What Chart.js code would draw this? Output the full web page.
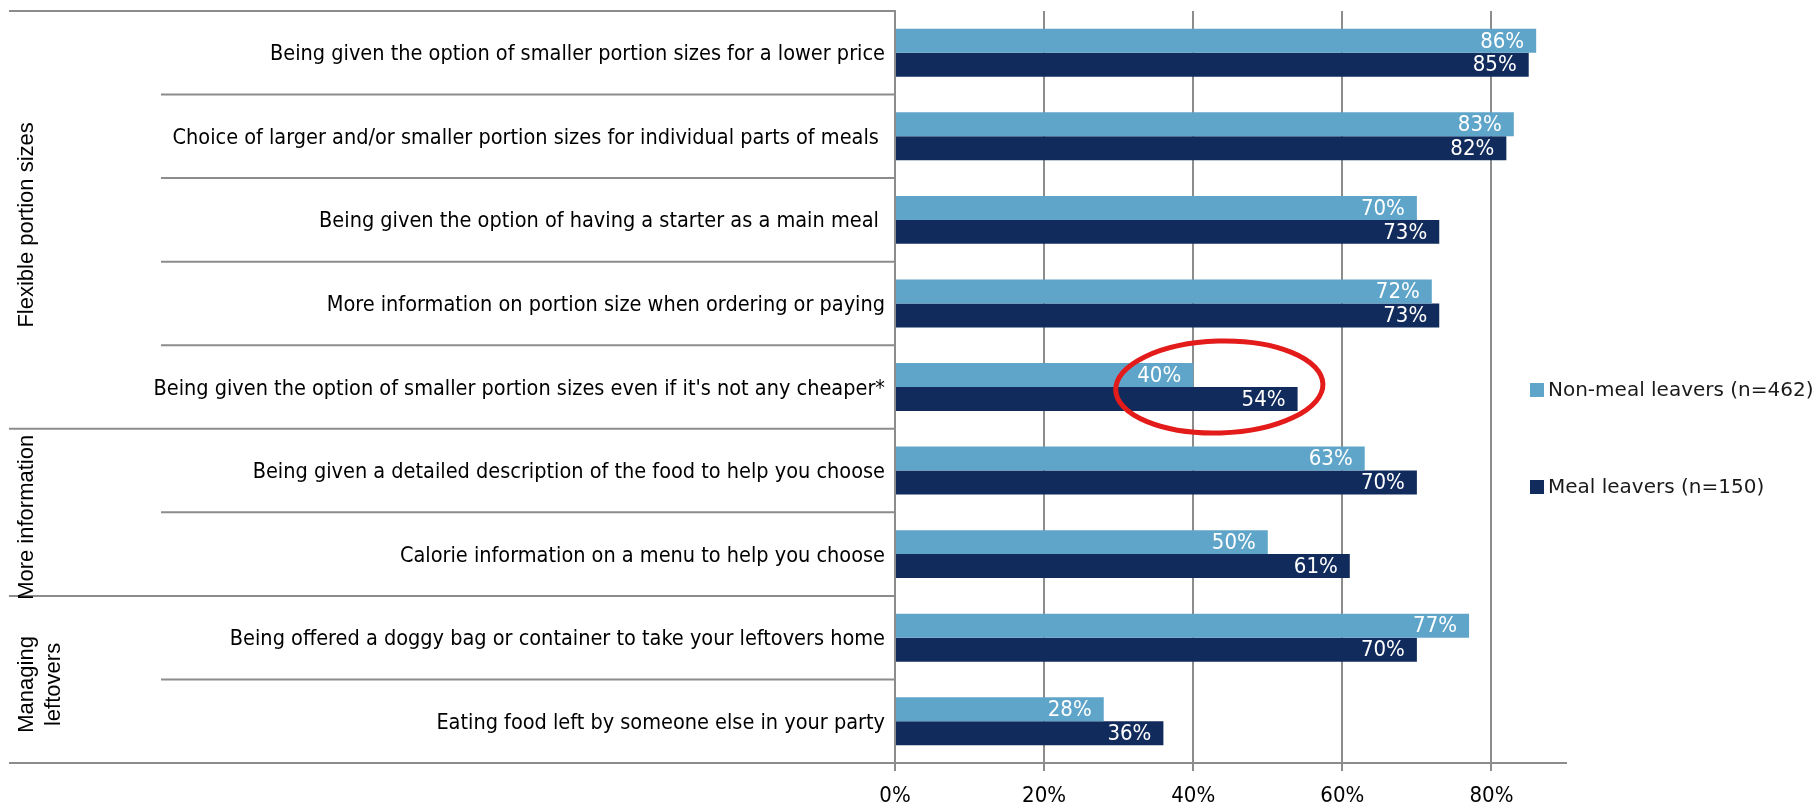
<!DOCTYPE html>
<html>
<head>
<meta charset="utf-8">
<title>Portion sizes and leftovers</title>
<script src="https://cdn.jsdelivr.net/npm/chart.js@4.4.1/dist/chart.umd.min.js"></script>
<style>
    html, body { margin: 0; padding: 0; background: #ffffff; }
    #wrap { width: 1816px; height: 804px; }
</style>
</head>
<body>
<div id="wrap"><canvas id="chart" width="1816" height="804"></canvas></div>
<script>
// Answers, top to bottom
const categories = [
    'Being given the option of smaller portion sizes for a lower price',
    'Choice of larger and/or smaller portion sizes for individual parts of meals ',
    'Being given the option of having a starter as a main meal ',
    'More information on portion size when ordering or paying',
    "Being given the option of smaller portion sizes even if it's not any cheaper*",
    'Being given a detailed description of the food to help you choose',
    'Calorie information on a menu to help you choose',
    'Being offered a doggy bag or container to take your leftovers home',
    'Eating food left by someone else in your party'
];

// Outer groups (each entry = lines of the label) and how many answers each covers
const groupNames = [['Flexible portion sizes'], ['More information'], ['Managing', 'leftovers']];
const groupSizes = [5, 2, 2];

const seriesNames = ['Non-meal leavers (n=462)', 'Meal leavers (n=150)'];
const nonMealLeavers = [86, 83, 70, 72, 40, 63, 50, 77, 28];
const mealLeavers = [85, 82, 73, 73, 54, 70, 61, 70, 36];

const xTicks = [0, 20, 40, 60, 80];
const xMax = 90;

const LINE_GREY = '#8c8c8c';
const LIGHT_BLUE = '#5fa5c9';
const NAVY = '#112b5c';
const NARROW = '"DejaVu Sans Condensed", "DejaVu Sans", sans-serif';

// category boundaries (pixel) on the y axis
function categoryBounds(chart) {
    const y = chart.scales.y;
    const first = y.getPixelForTick(0);
    const step = y.getPixelForTick(1) - first;
    const out = [];
    for (let i = 0; i <= categories.length; i++) out.push(first + (i - 0.5) * step);
    return { bounds: out, step: step };
}

// separators and rotated group names to the left of the axis
const categoryFrame = {
    id: 'categoryFrame',
    afterDraw(chart) {
        const ctx = chart.ctx;
        const left = chart.chartArea.left;
        const { bounds } = categoryBounds(chart);

        const groupEdges = [0];
        groupSizes.forEach(n => groupEdges.push(groupEdges[groupEdges.length - 1] + n));

        ctx.save();
        ctx.strokeStyle = LINE_GREY;
        ctx.lineWidth = 2;
        bounds.forEach((py, i) => {
            const startX = groupEdges.includes(i) ? 9 : 161;
            ctx.beginPath();
            ctx.moveTo(startX, py);
            ctx.lineTo(left, py);
            ctx.stroke();
        });

        ctx.fillStyle = '#000000';
        ctx.font = '22px "Liberation Sans", Arial, sans-serif';
        ctx.textAlign = 'center';
        ctx.textBaseline = 'alphabetic';
        groupNames.forEach((lines, g) => {
            const cy = (bounds[groupEdges[g]] + bounds[groupEdges[g + 1]]) / 2 + 5;
            lines.forEach((line, k) => {
                ctx.save();
                ctx.translate(33 + k * 27, cy);
                ctx.rotate(-Math.PI / 2);
                ctx.fillText(line, 0, 0);
                ctx.restore();
            });
        });
        ctx.restore();
    }
};

// value labels inside the end of each bar
const barValues = {
    id: 'barValues',
    afterDatasetsDraw(chart) {
        const ctx = chart.ctx;
        ctx.save();
        ctx.fillStyle = '#ffffff';
        ctx.font = '22px ' + NARROW;
        ctx.textAlign = 'right';
        ctx.textBaseline = 'middle';
        chart.data.datasets.forEach((ds, di) => {
            chart.getDatasetMeta(di).data.forEach((bar, i) => {
                ctx.fillText(ds.data[i] + '%', bar.x - 12, bar.y + 1);
            });
        });
        ctx.restore();
    }
};

// red ring around the "even if it's not any cheaper" pair
const highlightRing = {
    id: 'highlightRing',
    afterDatasetsDraw(chart) {
        const ctx = chart.ctx;
        const x = chart.scales.x;
        const y = chart.scales.y;
        const { step } = categoryBounds(chart);
        const cx = x.getPixelForValue(43.5);
        const rx = x.getPixelForValue(57.4) - cx;
        const cy = y.getPixelForTick(4);
        const ry = Math.abs(step) * 0.55;
        ctx.save();
        ctx.strokeStyle = '#e31b1b';
        ctx.lineWidth = 5;
        ctx.beginPath();
        ctx.ellipse(cx, cy, rx, ry, -0.03, 0, Math.PI * 2);
        ctx.stroke();
        ctx.restore();
    }
};

// legend sits over the empty right part of the plot
const sideLegend = {
    id: 'sideLegend',
    afterDraw(chart) {
        const ctx = chart.ctx;
        const area = chart.chartArea;
        const boxX = area.right - 36;
        const midY = (area.top + area.bottom) / 2;
        ctx.save();
        ctx.font = '20px "DejaVu Sans", sans-serif';
        ctx.textAlign = 'left';
        ctx.textBaseline = 'middle';
        chart.data.datasets.forEach((ds, i) => {
            const cy = midY + 3 + i * 97;
            ctx.fillStyle = ds.backgroundColor;
            ctx.fillRect(boxX, cy - 7, 14, 14);
            ctx.fillStyle = '#1a1a1a';
            ctx.fillText(ds.label, boxX + 18, cy + 1);
        });
        ctx.restore();
    }
};

new Chart(document.getElementById('chart'), {
    type: 'bar',
    data: {
        labels: categories,
        datasets: [
            { label: seriesNames[0], data: nonMealLeavers, backgroundColor: LIGHT_BLUE },
            { label: seriesNames[1], data: mealLeavers, backgroundColor: NAVY }
        ]
    },
    options: {
        indexAxis: 'y',
        responsive: false,
        animation: false,
        layout: { padding: { top: 11, right: 250, left: 0, bottom: 0 } },
        datasets: { bar: { categoryPercentage: 0.574, barPercentage: 1, borderWidth: 0 } },
        plugins: {
            legend: { display: false },
            tooltip: { enabled: false }
        },
        scales: {
            x: {
                min: 0,
                max: xMax,
                afterBuildTicks: scale => { scale.ticks = xTicks.map(v => ({ value: v })); },
                afterFit: scale => { scale.height = 41; },
                ticks: {
                    callback: v => v + '%',
                    color: '#000000',
                    font: { family: NARROW, size: 22 },
                    padding: 12,
                    maxRotation: 0
                },
                grid: { color: LINE_GREY, lineWidth: 2, tickLength: 8, tickColor: LINE_GREY, tickWidth: 2 },
                border: { color: LINE_GREY, width: 2 }
            },
            y: {
                afterFit: scale => {
                    scale.width = 895;
                    scale.paddingTop = 0;
                    scale.paddingBottom = 0;
                },
                ticks: {
                    color: '#000000',
                    font: { family: NARROW, size: 21.5 },
                    padding: 10,
                    labelOffset: 2,
                    autoSkip: false
                },
                grid: { display: false, drawTicks: false },
                border: { display: true, color: LINE_GREY, width: 2 }
            }
        }
    },
    plugins: [categoryFrame, barValues, highlightRing, sideLegend]
});
</script>
</body>
</html>
